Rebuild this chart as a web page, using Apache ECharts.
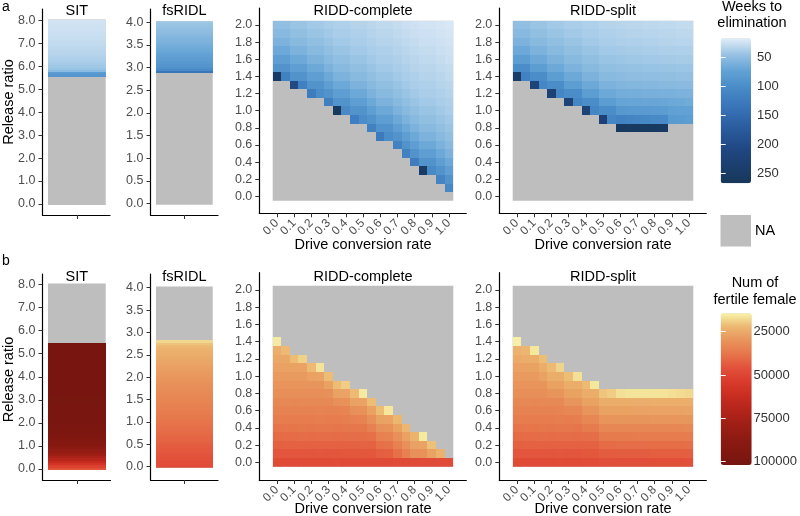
<!DOCTYPE html>
<html><head><meta charset="utf-8">
<script src="https://cdn.jsdelivr.net/npm/echarts@6/dist/echarts.min.js"></script>
<style>html,body{margin:0;padding:0;background:#fff}#c{width:800px;height:516px}</style>
</head><body><div id="c"></div>
<script>
const _ = null;

// ---------- categories ----------
const driveRates = ['0.00','0.05','0.10','0.15','0.20','0.25','0.30','0.35','0.40','0.45','0.50','0.55','0.60','0.65','0.70','0.75','0.80','0.85','0.90','0.95','1.00'];
const riddRatios = ['0.0','0.1','0.2','0.3','0.4','0.5','0.6','0.7','0.8','0.9','1.0','1.1','1.2','1.3','1.4','1.5','1.6','1.7','1.8','1.9','2.0'];
const sitRatios = [
 '0.0','0.1','0.2','0.3','0.4','0.5','0.6','0.7','0.8','0.9',
 '1.0','1.1','1.2','1.3','1.4','1.5','1.6','1.7','1.8','1.9',
 '2.0','2.1','2.2','2.3','2.4','2.5','2.6','2.7','2.8','2.9',
 '3.0','3.1','3.2','3.3','3.4','3.5','3.6','3.7','3.8','3.9',
 '4.0','4.1','4.2','4.3','4.4','4.5','4.6','4.7','4.8','4.9',
 '5.0','5.1','5.2','5.3','5.4','5.5','5.6','5.7','5.8','5.9',
 '6.0','6.1','6.2','6.3','6.4','6.5','6.6','6.7','6.8','6.9',
 '7.0','7.1','7.2','7.3','7.4','7.5','7.6','7.7','7.8','7.9',
 '8.0'];
const fsridlRatios = [
 '0.00','0.05','0.10','0.15','0.20','0.25','0.30','0.35','0.40','0.45',
 '0.50','0.55','0.60','0.65','0.70','0.75','0.80','0.85','0.90','0.95',
 '1.00','1.05','1.10','1.15','1.20','1.25','1.30','1.35','1.40','1.45',
 '1.50','1.55','1.60','1.65','1.70','1.75','1.80','1.85','1.90','1.95',
 '2.00','2.05','2.10','2.15','2.20','2.25','2.30','2.35','2.40','2.45',
 '2.50','2.55','2.60','2.65','2.70','2.75','2.80','2.85','2.90','2.95',
 '3.00','3.05','3.10','3.15','3.20','3.25','3.30','3.35','3.40','3.45',
 '3.50','3.55','3.60','3.65','3.70','3.75','3.80','3.85','3.90','3.95',
 '4.00'];
const singleColumn = [''];
const panelTitles = ['SIT', 'fsRIDL', 'RIDD-complete', 'RIDD-split'];

// ---------- legend ----------
const weeksRange = [18, 267];
const weeksTicks = [50, 100, 150, 200, 250];
const femaleRange = [14400, 102000];
const femaleTicks = [25000, 50000, 75000, 100000];

// ---------- a: weeks to elimination ----------
const weeksSIT = [
 _,_,_,_,_,_,_,_,_,_,
 _,_,_,_,_,_,_,_,_,_,
 _,_,_,_,_,_,_,_,_,_,
 _,_,_,_,_,_,_,_,_,_,
 _,_,_,_,_,_,_,_,_,_,
 _,_,_,_,_,_,88,82,52,46,
 43,41,39,37,36,35,34,33,32,31,
 30,29,28,28,27,27,26,26,25,25,
 24];
const weeksFsRIDL = [
 _,_,_,_,_,_,_,_,_,_,
 _,_,_,_,_,_,_,_,_,_,
 _,_,_,_,_,_,_,_,_,_,
 _,_,_,_,_,_,_,_,_,_,
 _,_,_,_,_,_,_,_,_,_,
 _,_,_,_,_,_,_,_,135,105,
 95,90,86,82,79,76,73,70,68,66,
 63,61,59,57,55,53,51,49,47,45,
 43];
// rows: release ratio 0.0 (first) .. 2.0 (last); columns: drive conversion 0.00..1.00
const weeksComplete = [
 [_,_,_,_,_, _,_,_,_,_, _,_,_,_,_, _,_,_,_,_, _],
 [_,_,_,_,_, _,_,_,_,_, _,_,_,_,_, _,_,_,_,_, 108],
 [_,_,_,_,_, _,_,_,_,_, _,_,_,_,_, _,_,_,_, 112,92],
 [_,_,_,_,_, _,_,_,_,_, _,_,_,_,_, _,_, 250,105,92,78],
 [_,_,_,_,_, _,_,_,_,_, _,_,_,_,_, _, 125,92,92,78,68],
 [_,_,_,_,_, _,_,_,_,_, _,_,_,_,_, 118,92,78,78,68,60],
 [_,_,_,_,_, _,_,_,_,_, _,_,_,_, 115,92,78,68,68,60,54],
 [_,_,_,_,_, _,_,_,_,_, _,_, 128,100,92,78,68,60,60,54,49],
 [_,_,_,_,_, _,_,_,_,_, _, 118,92,92,78,68,60,54,54,49,45],
 [_,_,_,_,_, _,_,_,_, 122,100,92,78,78,68,60,54,49,49,45,42],
 [_,_,_,_,_, _,_, 262,105,92,92,78,68,68,60,54,49,45,45,42,39],
 [_,_,_,_,_, _, 120,92,92,78,78,68,60,60,54,49,45,42,42,39,37],
 [_,_,_,_, 125,100,92,78,78,68,68,60,54,54,49,45,42,39,39,37,35],
 [_,_, 205,120,92,92,78,68,68,60,60,54,49,49,45,42,39,37,37,35,33],
 [255,118,92,92,78,78,68,60,60,54,54,49,45,45,42,39,37,35,35,33,31],
 [92,92,78,78,68,68,60,54,54,49,49,45,42,42,39,37,35,33,33,31,29],
 [78,78,68,68,60,60,54,49,49,45,45,42,39,39,37,35,33,31,31,29,27],
 [68,68,60,60,54,54,49,45,45,42,42,39,37,37,35,33,31,29,29,27,26],
 [60,60,54,54,49,49,45,42,42,39,39,37,35,35,33,31,29,27,27,26,24],
 [54,54,49,49,45,45,42,39,39,37,37,35,33,33,31,29,27,26,26,24,23],
 [49,49,45,45,42,42,39,37,37,35,35,33,31,31,29,27,26,24,24,23,22]
];
const weeksSplit = [
 [_,_,_,_,_, _,_,_,_,_, _,_,_,_,_, _,_,_,_,_, _],
 [_,_,_,_,_, _,_,_,_,_, _,_,_,_,_, _,_,_,_,_, _],
 [_,_,_,_,_, _,_,_,_,_, _,_,_,_,_, _,_,_,_,_, _],
 [_,_,_,_,_, _,_,_,_,_, _,_,_,_,_, _,_,_,_,_, _],
 [_,_,_,_,_, _,_,_,_,_, _,_,_,_,_, _,_,_,_,_, _],
 [_,_,_,_,_, _,_,_,_,_, _,_,_,_,_, _,_,_,_,_, _],
 [_,_,_,_,_, _,_,_,_,_, _,_,_,_,_, _,_,_,_,_, _],
 [_,_,_,_,_, _,_,_,_,_, _,_,_,_,_, _,_,_,_,_, _],
 [_,_,_,_,_, _,_,_,_,_, _,_, 258,256,258,257,258,255, _,_,_],
 [_,_,_,_,_, _,_,_,_,_, 228,110,115,112,110,108,105,102,84,82,80],
 [_,_,_,_,_, _,_,_, 225,110,100,100,86,85,84,83,82,81,76,75,74],
 [_,_,_,_,_, _, 225,110,100,100,80,80,72,71,71,70,70,69,68,67,66],
 [_,_,_,_, 228,110,100,100,80,80,68,68,64,63,63,62,62,61,61,60,60],
 [_,_, 222,110,100,100,80,80,68,68,60,60,57,56,56,55,55,54,54,53,53],
 [245,115,100,100,80,80,68,68,60,60,54,54,52,51,51,50,50,49,49,48,48],
 [100,100,80,80,68,68,60,60,54,54,49,49,48,47,47,46,46,45,45,44,44],
 [80,80,68,68,60,60,54,54,49,49,45,45,44,43,43,42,42,41,41,40,40],
 [68,68,60,60,54,54,49,49,45,45,42,42,41,40,40,39,39,38,38,37,37],
 [60,60,54,54,49,49,45,45,42,42,39,39,38,37,37,36,36,35,35,34,34],
 [54,54,49,49,45,45,42,42,39,39,37,37,36,35,35,34,34,33,33,32,32],
 [49,49,45,45,42,42,39,39,37,37,35,35,34,33,33,32,32,31,31,30,30]
];

// ---------- b: number of fertile females ----------
const femaleSIT = [
 46000,52000,58000,63500,69000,74000,78000,82000,85000,88000,
 90500,92000,93500,95000,96000,97000,97500,98000,98500,99000,
 99500,99700,99800,99800,100000,100100,100100,100300,100400,100400,
 100500,100600,100600,100700,100800,100800,100900,100900,101000,100900,
 101000,101000,100900,101000,101000,100900,101000,101000,100900,101000,
 101000,100900,101000,101000,100900,_,_,_,_,_,
 _,_,_,_,_,_,_,_,_,_,
 _,_,_,_,_,_,_,_,_,_,
 _];
const femaleFsRIDL = [
 48000,47500,47200,46500,46200,45500,45200,44500,44200,43600,
 43000,42600,41900,41500,40900,40500,40000,39400,39000,38500,
 38000,37700,37100,36800,36200,35900,35400,35100,34600,34300,
 33800,33500,33000,32700,32200,31900,31400,31000,30400,30000,
 29400,29000,28500,28100,27500,27100,26500,26100,25500,25100,
 24500,24100,23400,22800,21800,20600,18200,_,_,_,
 _,_,_,_,_,_,_,_,_,_,
 _,_,_,_,_,_,_,_,_,_,
 _];
const femaleComplete = [
 [48200,48000,48100,47900,48000,48100,48000,47800,48000,47900,48100,48000,47900,48000,47800,47900,48000,47800,47900,47700,47600],
 [45200,45000,45100,44900,45000,44800,44900,45000,44700,44800,44600,44700,43000,42800,39000,35000,31000,30800,27000,23500, _],
 [42700,42500,42600,42400,42500,42300,42400,42500,42200,42300,42100,42200,39000,38800,35000,31000,27000,26800,21000, _,_],
 [40200,40000,40100,39900,40000,39800,39900,40000,39700,39800,39600,39000,35000,34800,31000,27000,23000,15500, _,_,_],
 [38200,38000,38100,37900,38000,37800,37900,38000,37700,37800,37600,35000,31000,30800,27000,22500, _,_,_,_,_],
 [36200,36000,36100,35900,36000,35800,35900,36000,35700,35000,34800,31000,27000,26800,22500, _,_,_,_,_,_],
 [34700,34500,34600,34400,34500,34300,34400,34500,34200,31000,30800,27000,21500,16000, _,_,_,_,_,_,_],
 [33200,33000,33100,32900,33000,32800,32900,31000,30800,27000,26800,21500, _,_,_,_,_,_,_,_,_],
 [31700,31500,31600,31400,31500,31300,31000,27000,26800,22000,15500, _,_,_,_,_,_,_,_,_,_],
 [30200,30000,30100,29900,30000,29800,27000,21500,19500, _,_,_,_,_,_,_,_,_,_,_,_],
 [28700,28500,28600,28400,27000,26800,21500, _,_,_,_,_,_,_,_,_,_,_,_,_,_],
 [27200,27000,26900,26800,22000,16500, _,_,_,_,_,_,_,_,_,_,_,_,_,_,_],
 [25800,25600,21500,19000, _,_,_,_,_,_,_,_,_,_,_,_,_,_,_,_,_],
 [24500,22000, _,_,_,_,_,_,_,_,_,_,_,_,_,_,_,_,_,_,_],
 [15500, _,_,_,_,_,_,_,_,_,_,_,_,_,_,_,_,_,_,_,_],
 [_,_,_,_,_, _,_,_,_,_, _,_,_,_,_, _,_,_,_,_, _],
 [_,_,_,_,_, _,_,_,_,_, _,_,_,_,_, _,_,_,_,_, _],
 [_,_,_,_,_, _,_,_,_,_, _,_,_,_,_, _,_,_,_,_, _],
 [_,_,_,_,_, _,_,_,_,_, _,_,_,_,_, _,_,_,_,_, _],
 [_,_,_,_,_, _,_,_,_,_, _,_,_,_,_, _,_,_,_,_, _],
 [_,_,_,_,_, _,_,_,_,_, _,_,_,_,_, _,_,_,_,_, _]
];
const femaleSplit = [
 [48200,48000,48100,47900,48000,47800,47900,48000,47700,47800,47000,47000,46900,46900,46800,46800,46700,46700,46600,46600,46500],
 [45200,45000,45100,44900,45000,44800,44900,45000,44700,44800,43500,43500,43400,43400,43300,43300,43200,43200,43100,43100,43000],
 [42700,42500,42600,42400,42500,42300,42400,42500,42200,42300,40000,40000,39900,39900,39800,39800,39700,39700,39600,39600,39500],
 [40200,40000,40100,39900,40000,39800,39900,40000,39700,39800,36500,36500,36400,36400,36300,36300,36200,36200,36100,36100,36000],
 [38200,38000,38100,37900,38000,37800,37900,38000,36500,36400,33500,33500,33400,33400,33300,33300,33200,33200,33100,33100,33000],
 [36200,36000,36100,35900,36000,35800,35900,35800,33500,33400,30000,30000,29900,29900,29800,29800,29700,29700,29600,29600,29500],
 [34700,34500,34600,34400,34500,34300,33500,33400,30000,29900,27000,27000,26900,26900,26800,26800,26700,26700,26600,26600,26500],
 [33200,33000,33100,32900,33000,32800,30000,29900,27000,26900,24500,24500,24400,24400,24300,24300,24200,24200,24100,24100,24000],
 [31700,31500,31600,31400,30000,29900,27000,26900,24500,24400,20500,19500,17000,16500,16500,16500,16500,16500,17000,17500,18000],
 [30200,30000,30100,29900,27000,26900,24500,24400,22000,16000, _,_,_,_,_,_,_,_,_,_,_],
 [28700,28500,28600,27000,24500,24400,21500,17000, _,_,_,_,_,_,_,_,_,_,_,_,_],
 [27200,27000,26900,24500,22000,18500, _,_,_,_,_,_,_,_,_,_,_,_,_,_,_],
 [25000,24500,24400,21500, _,_,_,_,_,_,_,_,_,_,_,_,_,_,_,_,_],
 [23500,22500,16000, _,_,_,_,_,_,_,_,_,_,_,_,_,_,_,_,_,_],
 [15000, _,_,_,_,_,_,_,_,_,_,_,_,_,_,_,_,_,_,_,_],
 [_,_,_,_,_, _,_,_,_,_, _,_,_,_,_, _,_,_,_,_, _],
 [_,_,_,_,_, _,_,_,_,_, _,_,_,_,_, _,_,_,_,_, _],
 [_,_,_,_,_, _,_,_,_,_, _,_,_,_,_, _,_,_,_,_, _],
 [_,_,_,_,_, _,_,_,_,_, _,_,_,_,_, _,_,_,_,_, _],
 [_,_,_,_,_, _,_,_,_,_, _,_,_,_,_, _,_,_,_,_, _],
 [_,_,_,_,_, _,_,_,_,_, _,_,_,_,_, _,_,_,_,_, _]
];

// sanity check of table shapes
[[weeksComplete,'wc'],[weeksSplit,'ws'],[femaleComplete,'fc'],[femaleSplit,'fs']].forEach(([m,n]) => {
  if (m.length !== 21) throw new Error(n + ' rows ' + m.length);
  m.forEach((r,i) => { if (r.length !== 21) throw new Error(n + ' row ' + i + ' len ' + r.length); });
});
[[weeksSIT,'wS'],[weeksFsRIDL,'wF'],[femaleSIT,'fS'],[femaleFsRIDL,'fF']].forEach(([v,n]) => {
  if (v.length !== 81) throw new Error(n + ' len ' + v.length);
});

// ---------- styling / layout ----------
const FONT = '"Liberation Sans", Arial, Helvetica, sans-serif';
const NA_GREY = '#bebebe';
const weeksColors = ['#e2edf7','#98c3e4','#62a2d5','#4a8cc8','#3c79bd','#3066aa','#265595','#1f4680','#1b3e6c','#17375a'];
const femaleColors = ['#f7f4a8','#ecb670','#e8935a','#e6744a','#e2503a','#d93a2b','#c82e20','#b4241a','#a01f15','#8e1b12','#821810','#761510'];

const grid = [], xAxis = [], yAxis = [], series = [], graphic = [];
const fmt1 = v => Number(v).toFixed(1);

// tile renderer: rectangle of one category band, edges snapped to whole pixels
function renderTile(params, api) {
  const c = api.coord([api.value(0), api.value(1)]);
  const s = api.size([1, 1]);
  const x0 = Math.round(c[0] - s[0] / 2), x1 = Math.round(c[0] + s[0] / 2);
  const y0 = Math.round(c[1] - s[1] / 2), y1 = Math.round(c[1] + s[1] / 2);
  return {type: 'rect', shape: {x: x0, y: y0, width: x1 - x0, height: y1 - y0},
    style: {fill: api.visual('color')}};
}

function addPanel(p) {
  const g = grid.length;
  grid.push({left: p.heat[0], top: p.heat[1], width: p.heat[2], height: p.heat[3],
    show: true, backgroundColor: NA_GREY, borderWidth: 0});
  const heatBottom = p.heat[1] + p.heat[3];
  const frameBottom = p.frame[1] + p.frame[3];
  xAxis.push({gridIndex: g, type: 'category', data: p.xCats, position: 'bottom',
    offset: frameBottom - heatBottom,
    axisLine: {show: false},
    axisTick: {show: true, alignWithLabel: true, interval: p.xInt, length: 4, lineStyle: {color: '#333', width: 1}},
    axisLabel: {show: p.xLabels, interval: p.xInt, rotate: 45, margin: 8, fontSize: 12,
      showMinLabel: true, showMaxLabel: true, hideOverlap: false,
      color: '#4d4d4d', fontFamily: FONT, formatter: fmt1},
    splitLine: {show: false}});
  yAxis.push({gridIndex: g, type: 'category', data: p.yCats, position: 'left',
    offset: p.heat[0] - p.frame[0],
    axisLine: {show: false},
    axisTick: {show: true, alignWithLabel: true, interval: p.yInt, length: 4, lineStyle: {color: '#333', width: 1}},
    axisLabel: {show: true, interval: p.yInt, margin: 7, fontSize: 12.5, color: '#4d4d4d',
      showMinLabel: true, showMaxLabel: true, fontFamily: FONT, formatter: fmt1},
    splitLine: {show: false}});
  const data = [];
  if (p.matrix) {
    p.values.forEach((row, k) => row.forEach((v, c) => { if (v !== null) data.push([c, k, v]); }));
  } else {
    p.values.forEach((v, k) => { if (v !== null) data.push([0, k, v]); });
  }
  series.push({type: 'custom', xAxisIndex: xAxis.length - 1, yAxisIndex: yAxis.length - 1,
    data, encode: {x: 0, y: 1}, renderItem: renderTile, silent: true, clip: true});
  // frame (L-shaped axis lines)
  const f = grid.length;
  grid.push({left: p.frame[0], top: p.frame[1], width: p.frame[2], height: p.frame[3], show: false});
  const frameAxis = {gridIndex: f, type: 'value', min: 0, max: 1,
    axisLine: {show: true, onZero: false, lineStyle: {color: '#000', width: 1.2}},
    axisTick: {show: false}, axisLabel: {show: false}, splitLine: {show: false}};
  xAxis.push(Object.assign({}, frameAxis, {position: 'bottom'}));
  yAxis.push(Object.assign({}, frameAxis, {position: 'left'}));
  // title
  graphic.push({type: 'text', x: p.heat[0] + p.heat[2] / 2, y: p.titleY,
    style: {text: p.title, fill: '#000', font: '14.5px ' + FONT, textAlign: 'center', textVerticalAlign: 'middle', align: 'center', verticalAlign: 'middle'}});
  if (p.xLabels) {
    graphic.push({type: 'text', x: p.heat[0] + p.heat[2] / 2, y: p.xTitleY,
      style: {text: 'Drive conversion rate', fill: '#000', font: '14.5px ' + FONT, textAlign: 'center', textVerticalAlign: 'middle', align: 'center', verticalAlign: 'middle'}});
  }
}

// row a
addPanel({title: panelTitles[0], heat: [48, 19.5, 57.7, 185.5], frame: [42.5, 9, 67.5, 206], titleY: 11,
  xCats: singleColumn, xInt: 0, xLabels: false, yCats: sitRatios, yInt: 9, matrix: false, values: weeksSIT});
addPanel({title: panelTitles[1], heat: [156, 21.2, 56.7, 183.5], frame: [150.5, 9, 67.5, 206], titleY: 11,
  xCats: singleColumn, xInt: 0, xLabels: false, yCats: fsridlRatios, yInt: 9, matrix: false, values: weeksFsRIDL});
addPanel({title: panelTitles[2], heat: [272.7, 20.7, 180.6, 180], frame: [259.3, 8, 207, 205.3], titleY: 11, xTitleY: 244.5,
  xCats: driveRates, xInt: 1, xLabels: true, yCats: riddRatios, yInt: 1, matrix: true, values: weeksComplete});
addPanel({title: panelTitles[3], heat: [512.7, 20.7, 180.6, 180], frame: [499.3, 8, 207, 205.3], titleY: 11, xTitleY: 244.5,
  xCats: driveRates, xInt: 1, xLabels: true, yCats: riddRatios, yInt: 1, matrix: true, values: weeksSplit});
// row b
addPanel({title: panelTitles[0], heat: [48, 283.5, 57.7, 186.5], frame: [42.5, 274, 68, 206], titleY: 276.5,
  xCats: singleColumn, xInt: 0, xLabels: false, yCats: sitRatios, yInt: 9, matrix: false, values: femaleSIT});
addPanel({title: panelTitles[1], heat: [156, 286.6, 56.7, 181.2], frame: [150.5, 274, 67.5, 206], titleY: 276.5,
  xCats: singleColumn, xInt: 0, xLabels: false, yCats: fsridlRatios, yInt: 9, matrix: false, values: femaleFsRIDL});
addPanel({title: panelTitles[2], heat: [272.7, 285.7, 180.6, 181], frame: [259.3, 272.7, 207, 207.3], titleY: 276.5, xTitleY: 508.5,
  xCats: driveRates, xInt: 1, xLabels: true, yCats: riddRatios, yInt: 1, matrix: true, values: femaleComplete});
addPanel({title: panelTitles[3], heat: [512.7, 285.7, 180.6, 181], frame: [499.3, 272.7, 207, 207.3], titleY: 276.5, xTitleY: 508.5,
  xCats: driveRates, xInt: 1, xLabels: true, yCats: riddRatios, yInt: 1, matrix: true, values: femaleSplit});

// legend tick/label axes over the colour bars
function legendAxes(rect, range, ticks) {
  const g = grid.length;
  grid.push({left: rect[0], top: rect[1], width: rect[2], height: rect[3], show: false});
  xAxis.push({gridIndex: g, type: 'value', min: 0, max: 1, show: false});
  const base = {gridIndex: g, type: 'value', min: range[0], max: range[1], inverse: true, z: 10,
    axisLine: {show: false}, splitLine: {show: false}};
  const tick = {show: true, inside: true, length: 5, lineStyle: {color: '#ffffff', width: 1}, customValues: ticks};
  yAxis.push(Object.assign({}, base, {position: 'right', axisTick: tick,
    axisLabel: {show: true, customValues: ticks, margin: 6, fontSize: 13, color: '#333', fontFamily: FONT,
      formatter: v => String(v)}}));
  yAxis.push(Object.assign({}, base, {position: 'left', axisTick: tick, axisLabel: {show: false}}));
}
const weeksBar = [720.7, 38.3, 30.3, 145];
const femaleBar = [720.7, 313.3, 31, 151.7];
legendAxes(weeksBar, weeksRange, weeksTicks);
legendAxes(femaleBar, femaleRange, femaleTicks);

function txt(text, x, y, opts) {
  opts = opts || {};
  graphic.push({type: 'text', x, y, rotation: opts.rot || 0,
    style: {text, fill: '#000', font: (opts.size || 14.5) + 'px ' + FONT,
      textAlign: opts.align || 'center', align: opts.align || 'center',
      textVerticalAlign: 'middle', verticalAlign: 'middle'}});
}
txt('a', 2, 7, {align: 'left', size: 14});
txt('b', 2, 261, {align: 'left', size: 14});
txt('Release ratio', 9, 102, {rot: Math.PI / 2});
txt('Release ratio', 9, 379.5, {rot: Math.PI / 2});
txt('Weeks to', 752, 7);
txt('elimination', 752, 22.5);
txt('Num of', 755, 283);
txt('fertile female', 755, 299.5);
graphic.push({type: 'rect', shape: {x: 720.5, y: 215, width: 30.5, height: 31.5}, style: {fill: NA_GREY}});
txt('NA', 755, 231, {align: 'left'});

const option = {
  animation: false,
  textStyle: {fontFamily: FONT},
  grid, xAxis, yAxis, series, graphic,
  visualMap: [
    {type: 'continuous', seriesIndex: [0, 1, 2, 3], dimension: 2, min: weeksRange[0], max: weeksRange[1],
     inRange: {color: weeksColors}, orient: 'vertical', inverse: true, calculable: false, hoverLink: false,
     left: weeksBar[0], top: weeksBar[1], itemWidth: weeksBar[2], itemHeight: weeksBar[3], padding: 0, text: null, z: 4},
    {type: 'continuous', seriesIndex: [4, 5, 6, 7], dimension: 2, min: femaleRange[0], max: femaleRange[1],
     inRange: {color: femaleColors}, orient: 'vertical', inverse: true, calculable: false, hoverLink: false,
     left: femaleBar[0], top: femaleBar[1], itemWidth: femaleBar[2], itemHeight: femaleBar[3], padding: 0, text: null, z: 4}
  ]
};
const chart = echarts.init(document.getElementById('c'), null, {renderer: 'canvas'});
chart.setOption(option);
</script>
</body></html>
